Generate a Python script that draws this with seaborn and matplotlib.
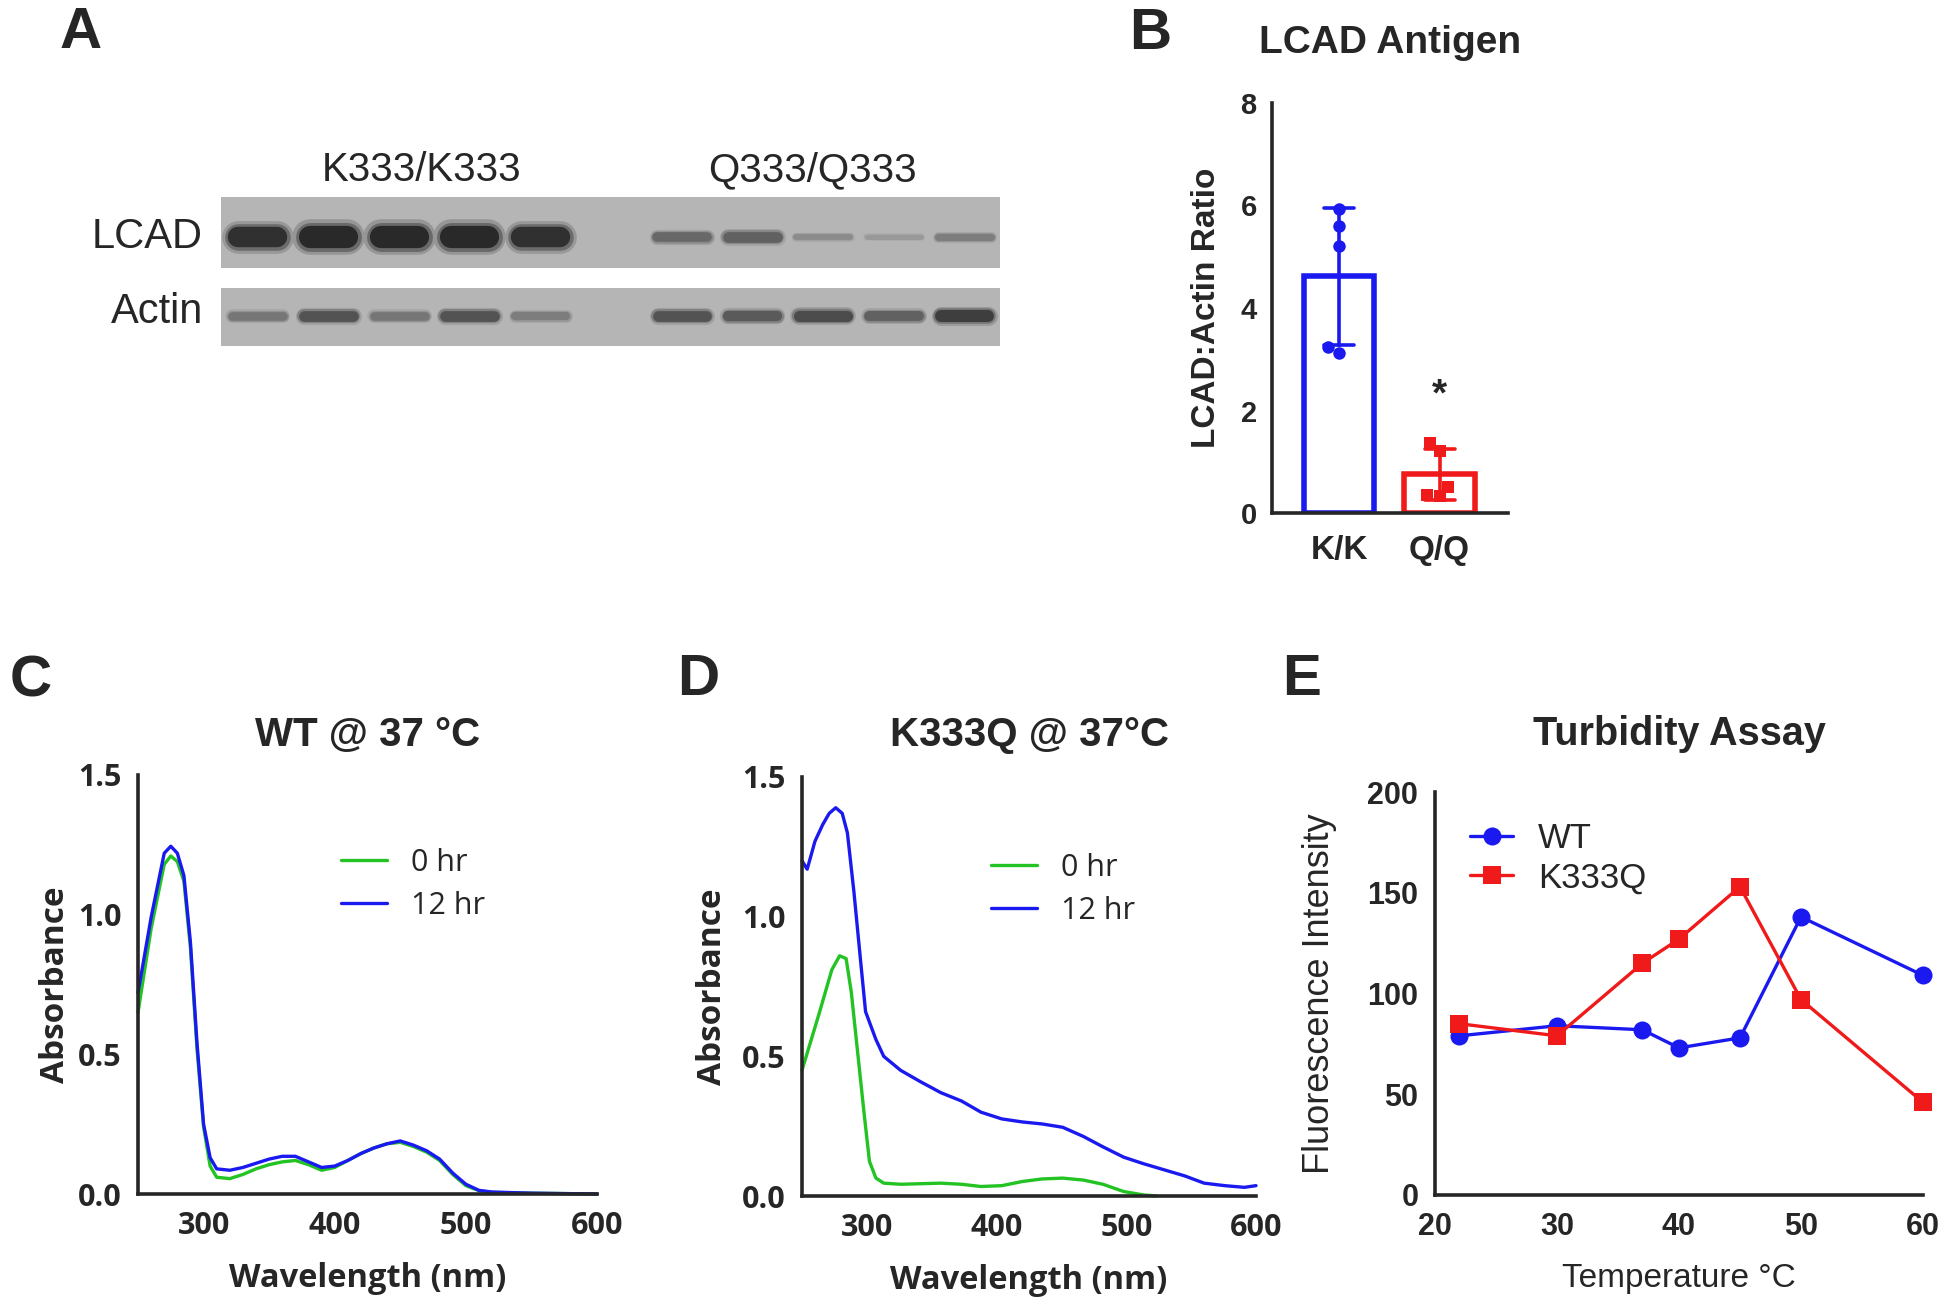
import numpy as np
import pandas as pd
import seaborn as sns
import matplotlib.pyplot as plt

# ---------------- data ----------------
# western blot (A): relative band darkness per lane
lanes_kk = [0, 1, 2, 3, 4]
lanes_qq = [6, 7, 8, 9, 10]
lcad_kk = [0.95, 1.0, 1.0, 1.0, 0.95]
lcad_qq = [0.55, 0.6, 0.3, 0.2, 0.4]
actin_kk = [0.45, 0.7, 0.45, 0.7, 0.4]
actin_qq = [0.7, 0.65, 0.75, 0.6, 0.85]

# LCAD antigen (B)
ratio_kk = [5.93, 5.60, 5.21, 3.12, 3.24]
ratio_qq = [1.37, 1.21, 0.51, 0.35, 0.33]

# WT @ 37 C (C)
wl_wt = [250, 260, 270, 275, 280, 285, 290, 295, 300, 305, 310, 320, 330, 340,
         350, 360, 370, 380, 390, 400, 410, 420, 430, 440, 450, 460, 470, 480,
         490, 500, 510, 520, 550, 600]
abs_wt_0 = [0.65, 0.95, 1.18, 1.21, 1.19, 1.12, 0.88, 0.52, 0.24, 0.10, 0.06, 0.055,
            0.07, 0.09, 0.105, 0.115, 0.12, 0.105, 0.085, 0.095, 0.12, 0.145, 0.165,
            0.18, 0.185, 0.17, 0.15, 0.12, 0.07, 0.03, 0.012, 0.006, 0.003, 0.0]
abs_wt_12 = [0.72, 0.99, 1.22, 1.245, 1.22, 1.14, 0.90, 0.54, 0.25, 0.13, 0.09, 0.085,
             0.095, 0.11, 0.125, 0.135, 0.135, 0.115, 0.095, 0.10, 0.12, 0.145, 0.165,
             0.18, 0.19, 0.175, 0.155, 0.125, 0.075, 0.035, 0.013, 0.007, 0.003, 0.0]

# K333Q @ 37 C (D)
wl_kq_0 = [250, 263, 273, 279, 284, 288, 293, 298, 302, 307, 313, 326, 357, 373,
           388, 404, 420, 435, 451, 467, 482, 498, 513, 523]
abs_kq_0 = [0.45, 0.65, 0.81, 0.86, 0.85, 0.73, 0.51, 0.29, 0.124, 0.064, 0.046, 0.042,
            0.046, 0.042, 0.034, 0.037, 0.052, 0.061, 0.064, 0.057, 0.042, 0.016,
            0.004, 0.0]
wl_kq_12 = [250, 254, 260, 266, 271, 276, 281, 285, 290, 295, 299, 307, 313, 326,
            341, 357, 373, 388, 404, 420, 435, 451, 467, 482, 498, 513, 529, 545,
            560, 576, 591, 600]
abs_kq_12 = [1.20, 1.17, 1.27, 1.33, 1.37, 1.39, 1.37, 1.30, 1.09, 0.85, 0.66, 0.56,
             0.50, 0.45, 0.41, 0.37, 0.34, 0.30, 0.276, 0.265, 0.258, 0.246, 0.213,
             0.176, 0.139, 0.116, 0.094, 0.072, 0.046, 0.037, 0.031, 0.037]

# turbidity assay (E)
temps = [22, 30, 37, 40, 45, 50, 60]
turb_wt = [79, 84, 82, 73, 78, 138, 109]
turb_kq = [85, 79, 115, 127, 153, 97, 46]

# ---------------- style ----------------
sns.set_style('white')
plt.rcParams['font.family'] = ['Liberation Sans', 'DejaVu Sans']
plt.rcParams['axes.linewidth'] = 2.6

blue = '#1a1af0'
red = '#f01a1a'
green = '#22c322'
opensans = ['Open Sans', 'DejaVu Sans']
letterfont = ['Liberation Sans Narrow', 'Liberation Sans']

W, H = 1950, 1309
fig = plt.figure(figsize=(W / 100, H / 100), dpi=100)


def axbox(l, t, r, b):
    return [l / W, 1 - b / H, (r - l) / W, (b - t) / H]


def ftext(x, y, s, **kw):
    fig.text(x / W, 1 - y / H, s, **kw)


# panel letters
for letter, (x, y) in zip('ABCDE', [(81, 33), (1150, 34), (31, 681), (698, 680), (1302, 680)]):
    ftext(x, y, letter, fontsize=42, fontweight='bold', family=letterfont,
          ha='center', va='center')

# ---------------- A: blot ----------------
ax_l = fig.add_axes(axbox(221, 197, 1000, 268))
ax_a = fig.add_axes(axbox(221, 288, 1000, 346))
lane_px = 779 / 11.02
bg = 0.71
for ax, kk, qq, kind, yb in [(ax_l, lcad_kk, lcad_qq, 'lcad', 0.44), (ax_a, actin_kk, actin_qq, 'actin', 0.52)]:
    ax.set_facecolor(str(bg))
    for lane, val in zip(lanes_kk + lanes_qq, kk + qq):
        lw = 3 + 13 * val ** 2 if kind == 'lcad' else 3.5 + 6 * val
        half = 0.42 - (lw / 0.72) / 2 / lane_px
        # soft blur around the band, then its core
        for grow, shade in [(1.6, 0.12), (1.3, 0.3)]:
            ax.plot([lane - half, lane + half], [yb, yb], lw=lw * grow,
                    color=str(bg - shade * val), solid_capstyle='round')
        ax.plot([lane - half, lane + half], [yb, yb], lw=lw, color=str(bg - 0.55 * val),
                solid_capstyle='round')
    ax.set_xlim(-0.52, 10.5)
    ax.set_ylim(0, 1)
    ax.set_xticks([])
    ax.set_yticks([])
    for s in ax.spines.values():
        s.set_visible(False)

ftext(422, 170, 'K333/K333', fontsize=29, ha='center', va='center')
ftext(812, 170, 'Q333/Q333', fontsize=29, ha='center', va='center')
ftext(203, 237, 'LCAD', fontsize=30, ha='right', va='center')
ftext(203, 312, 'Actin', fontsize=30, ha='right', va='center')

# ---------------- B: bar chart ----------------
axB = fig.add_axes(axbox(1272, 103, 1508, 513))
df_b = pd.DataFrame({'genotype': ['K/K'] * len(ratio_kk) + ['Q/Q'] * len(ratio_qq),
                     'ratio': ratio_kk + ratio_qq})
pal_b = {'K/K': blue, 'Q/Q': red}
sns.barplot(data=df_b, x='genotype', y='ratio', hue='genotype', palette=pal_b,
            fill=False, width=0.7, errorbar='sd', capsize=0.3, linewidth=4,
            err_kws={'linewidth': 2.6}, legend=False, ax=axB)
for g, mk, sz in [('K/K', 'o', 9), ('Q/Q', 's', 9)]:
    sns.swarmplot(data=df_b[df_b['genotype'] == g], x='genotype', y='ratio',
                  order=['K/K', 'Q/Q'], color=pal_b[g], marker=mk, size=sz,
                  linewidth=0, ax=axB, zorder=4)
axB.text(1, 2.3, '*', ha='center', va='center', fontsize=28, fontweight='bold')
axB.set_xlim(-0.667, 1.68)
axB.set_ylim(0, 8)
axB.set_yticks([0, 2, 4, 6, 8])
axB.set_yticklabels(['0', '2', '4', '6', '8'], fontsize=21, fontweight='bold')
axB.set_xticks([0, 1])
axB.set_xticklabels(['K/K', 'Q/Q'], fontsize=24, fontweight='bold')
axB.tick_params(axis='y', direction='out', length=8, width=2.4, pad=3)
axB.tick_params(axis='x', length=0, pad=16)
axB.set_xlabel('')
axB.set_ylabel('LCAD:Actin Ratio', fontsize=24, fontweight='bold')
axB.yaxis.set_label_coords(-0.212, 0.5)
axB.set_title('LCAD Antigen', fontsize=28, fontweight='bold', pad=36)
sns.despine(ax=axB)

# ---------------- C & D: spectra ----------------
spec_panels = [
    (axbox(138, 775, 597, 1194), wl_wt, abs_wt_0, wl_wt, abs_wt_12, 'WT @ 37 \u00b0C', 21,
     (341, 848), -0.144),
    (axbox(802, 777, 1256, 1196), wl_kq_0, abs_kq_0, wl_kq_12, abs_kq_12, 'K333Q @ 37\u00b0C', 22,
     (991, 853), -0.161),
]
for box, w0, a0, w12, a12, title, tpad, legxy, ylx in spec_panels:
    ax = fig.add_axes(box)
    df = pd.DataFrame({'wavelength': w0 + w12, 'absorbance': a0 + a12,
                       'time': ['0 hr'] * len(w0) + ['12 hr'] * len(w12)})
    sns.lineplot(data=df, x='wavelength', y='absorbance', hue='time',
                 palette={'0 hr': green, '12 hr': blue}, linewidth=2.4, ax=ax)
    for ln in ax.lines:
        ln.set_clip_on(False)
    handles, labels = ax.get_legend_handles_labels()
    ax.legend(handles, labels, loc='upper left', bbox_to_anchor=(legxy[0] / W, 1 - legxy[1] / H),
              bbox_transform=fig.transFigure, frameon=False, handlelength=1.5,
              handletextpad=0.8, labelspacing=0.43, borderpad=0, borderaxespad=0,
              prop={'family': opensans, 'size': 22})
    ax.set_xlim(250, 600)
    ax.set_ylim(0, 1.5)
    ax.set_xticks([300, 400, 500, 600])
    ax.set_xticklabels(['300', '400', '500', '600'], fontsize=22, fontweight='bold', family=opensans)
    ax.set_yticks([0, 0.5, 1.0, 1.5])
    ax.set_yticklabels(['0.0', '0.5', '1.0', '1.5'], fontsize=22, fontweight='bold', family=opensans)
    ax.tick_params(direction='out', length=8, width=2.4, pad=4)
    ax.set_xlabel('Wavelength (nm)', fontsize=23.5, fontweight='bold', family=opensans)
    ax.set_ylabel('Absorbance', fontsize=24, fontweight='bold', family=opensans)
    ax.xaxis.set_label_coords(0.5, -0.163)
    ax.yaxis.set_label_coords(ylx, 0.5)
    ax.set_title(title, fontsize=29, fontweight='bold', pad=tpad)
    sns.despine(ax=ax)

# ---------------- E: turbidity ----------------
axE = fig.add_axes(axbox(1435, 792, 1923, 1195))
df_e = pd.DataFrame({'temperature': temps * 2, 'intensity': turb_wt + turb_kq,
                     'protein': ['WT'] * len(temps) + ['K333Q'] * len(temps)})
sns.lineplot(data=df_e, x='temperature', y='intensity', hue='protein', style='protein',
             hue_order=['WT', 'K333Q'], style_order=['WT', 'K333Q'],
             palette={'WT': blue, 'K333Q': red}, markers={'WT': 'o', 'K333Q': 's'},
             dashes=False, markersize=13, markeredgewidth=0, linewidth=2.4, ax=axE)
for ln in axE.lines:
    ln.set_clip_on(False)
handles, labels = axE.get_legend_handles_labels()
axE.legend(handles, labels, loc='upper left', bbox_to_anchor=(1470 / W, 1 - 822 / H),
           bbox_transform=fig.transFigure, frameon=False, handlelength=1.25,
           handletextpad=0.7, labelspacing=0.18, borderpad=0, borderaxespad=0,
           prop={'size': 25})
axE.set_xlim(20, 60)
axE.set_ylim(0, 200)
axE.set_xticks([20, 30, 40, 50, 60])
axE.set_xticklabels(['20', '30', '40', '50', '60'], fontsize=22, fontweight='bold')
axE.set_yticks([0, 50, 100, 150, 200])
axE.set_yticklabels(['0', '50', '100', '150', '200'], fontsize=22, fontweight='bold')
axE.tick_params(direction='out', length=8, width=2.4, pad=4)
axE.set_xlabel('Temperature \u00b0C', fontsize=24)
axE.set_ylabel('Fluorescence Intensity', fontsize=26)
axE.xaxis.set_label_coords(0.5, -0.168)
axE.yaxis.set_label_coords(-0.20, 0.5)
axE.set_title('Turbidity Assay', fontsize=28.5, fontweight='bold', pad=34)
sns.despine(ax=axE)

fig.savefig('out.png', dpi=100)
